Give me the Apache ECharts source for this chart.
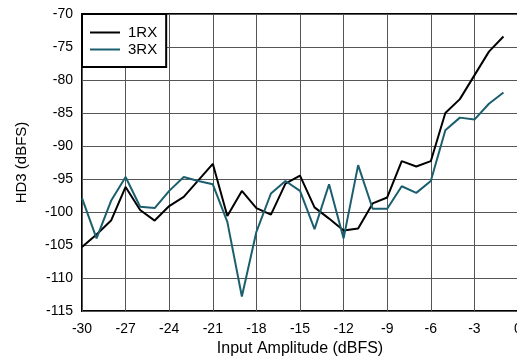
<!DOCTYPE html>
<html><head><meta charset="utf-8">
<script src="https://cdn.jsdelivr.net/npm/echarts@6/dist/echarts.min.js"></script>
<style>html,body{margin:0;padding:0;background:#fff}#c{width:517px;height:356px}</style>
</head><body><div id="c"></div>
<script>
const xValues = [-30,-29,-28,-27,-26,-25,-24,-23,-22,-21,-20,-19,-18,-17,-16,-15,-14,-13,-12,-11,-10,-9,-8,-7,-6,-5,-4,-3,-2,-1];
const rx1 = [-105.3,-103.4,-101.3,-96.2,-99.7,-101.3,-99.1,-97.7,-95.2,-92.7,-100.6,-96.8,-99.4,-100.4,-95.7,-94.5,-99.3,-101.0,-102.8,-102.5,-98.7,-97.8,-92.3,-93.1,-92.3,-85.0,-82.9,-79.3,-75.7,-73.4];
const rx3 = [-97.9,-104.0,-98.3,-94.7,-99.2,-99.4,-96.8,-94.7,-95.3,-95.8,-101.5,-112.8,-103.0,-97.2,-95.3,-96.8,-102.6,-95.8,-104.0,-92.9,-99.5,-99.5,-96.1,-97.1,-95.3,-87.6,-85.7,-86.0,-83.6,-81.9];
const seriesNames = ['1RX','3RX'];
const xTicks = {min:-30,max:0,interval:3};
const yTicks = {min:-115,max:-70,interval:5};

const font = 'Liberation Sans, Arial, sans-serif';
const chart = echarts.init(document.getElementById('c'));
const pair = (arr) => xValues.map((x,i)=>[x,arr[i]]);
chart.setOption({
  animation:false,
  textStyle:{fontFamily:font},
  grid:{left:82,right:-1,top:14,bottom:45,show:true,borderColor:'#000',borderWidth:2,containLabel:false,outerBoundsMode:'none'},
  legend:{
    left:82,top:14,orient:'vertical',
    data:seriesNames,
    backgroundColor:'#fff',borderColor:'#000',borderWidth:2,
    padding:[11,9,10,8],itemGap:2,itemWidth:30,itemHeight:2,
    textStyle:{fontFamily:font,fontSize:15,color:'#000',padding:[0,0,0,3]},
    icon:'rect'
  },
  xAxis:{
    type:'value',min:xTicks.min,max:xTicks.max,interval:xTicks.interval,
    name:'Input Amplitude (dBFS)',nameLocation:'middle',nameGap:24,
    nameTextStyle:{fontFamily:font,fontSize:16,color:'#000'},
    axisLine:{show:false},axisTick:{show:false},
    axisLabel:{fontFamily:font,fontSize:14,color:'#000',margin:11},
    splitLine:{show:true,lineStyle:{color:'#555',width:1}}
  },
  yAxis:{
    type:'value',min:yTicks.min,max:yTicks.max,interval:yTicks.interval,
    name:'HD3 (dBFS)',nameLocation:'middle',nameGap:53,
    nameTextStyle:{fontFamily:font,fontSize:15,color:'#000'},
    axisLine:{show:false},axisTick:{show:false},
    axisLabel:{fontFamily:font,fontSize:14,color:'#000',margin:9},
    splitLine:{show:true,lineStyle:{color:'#555',width:1}}
  },
  series:[
    {name:seriesNames[0],type:'line',data:pair(rx1),symbol:'none',color:'#000',lineStyle:{color:'#000',width:2}},
    {name:seriesNames[1],type:'line',data:pair(rx3),symbol:'none',color:'#1b5f6e',lineStyle:{color:'#1b5f6e',width:2}}
  ]
});
</script></body></html>
